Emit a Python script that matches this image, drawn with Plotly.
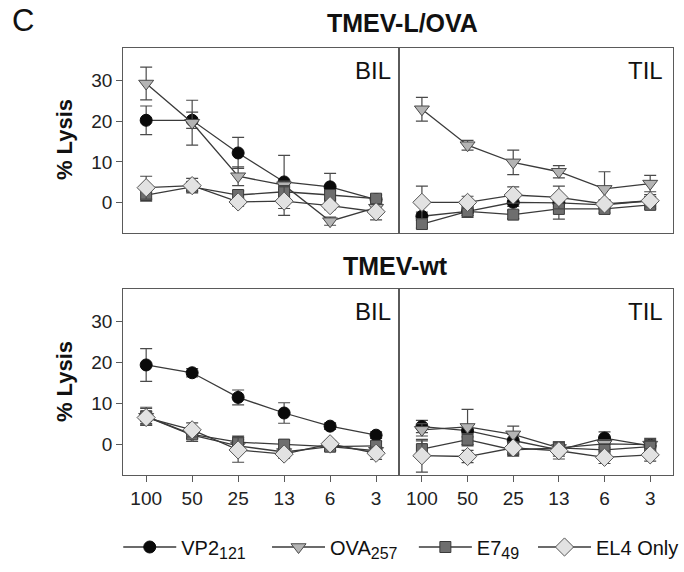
import plotly.graph_objects as go

# ---------------- data ----------------
categories = ["100", "50", "25", "13", "6", "3"]
y_ticks = [0, 10, 20, 30]
series_base = ["VP2", "OVA", "E7", "EL4 Only"]
series_sub = ["121", "257", "49", ""]
panel_titles = ["TMEV-L/OVA", "TMEV-wt"]
panel_labels = ["BIL", "TIL"]

# TMEV-L/OVA, BIL
ova_bil_vp2 = [20.2, 20.2, 12.2, 5.1, 3.9, 0.8]
ova_bil_vp2_err = [3.5, 2.0, 3.8, 6.5, 3.3, 1.0]
ova_bil_ova = [29.2, 19.6, 6.5, 4.3, -4.5, -1.2]
ova_bil_ova_err = [4.0, 5.5, 2.3, 1.0, 1.0, 1.5]
ova_bil_e7 = [1.9, 3.9, 1.9, 2.7, 1.9, 1.0]
ova_bil_e7_err = [1.5, 1.0, 1.0, 1.5, 1.0, 1.0]
ova_bil_el4 = [3.7, 4.2, 0.2, 0.4, -0.7, -2.2]
ova_bil_el4_err = [2.8, 1.8, 1.0, 3.5, 1.0, 2.0]

# TMEV-L/OVA, TIL
ova_til_vp2 = [-3.3, -2.1, 0.1, 0.0, -0.5, 0.5]
ova_til_vp2_err = [1.0, 1.0, 1.0, 1.0, 1.0, 1.0]
ova_til_ova = [22.9, 14.1, 9.9, 7.6, 3.4, 4.7]
ova_til_ova_err = [2.9, 1.2, 3.0, 1.5, 4.2, 2.0]
ova_til_e7 = [-5.2, -2.1, -2.9, -1.5, -1.5, -0.5]
ova_til_e7_err = [1.0, 1.5, 1.0, 2.5, 1.0, 1.0]
ova_til_el4 = [0.1, 0.1, 1.9, 1.3, -0.3, 0.5]
ova_til_el4_err = [4.0, 1.5, 2.0, 2.8, 1.0, 1.5]

# TMEV-wt, BIL
wt_bil_vp2 = [19.4, 17.5, 11.5, 7.7, 4.5, 2.3]
wt_bil_vp2_err = [4.0, 1.0, 1.8, 2.5, 0.8, 0.8]
wt_bil_ova = [6.8, 2.3, -0.3, -1.8, -0.5, -1.5]
wt_bil_ova_err = [2.0, 1.5, 1.5, 1.0, 1.0, 1.0]
wt_bil_e7 = [6.9, 2.5, 0.6, 0.0, -0.5, -0.3]
wt_bil_e7_err = [2.2, 1.0, 1.5, 1.0, 1.0, 1.0]
wt_bil_el4 = [6.6, 3.6, -1.3, -2.3, 0.2, -2.1]
wt_bil_el4_err = [1.5, 1.7, 3.0, 1.0, 0.8, 1.5]

# TMEV-wt, TIL
wt_til_vp2 = [4.4, 3.4, 1.0, -1.3, 1.6, -0.3]
wt_til_vp2_err = [1.5, 1.5, 1.5, 1.5, 1.5, 1.5]
wt_til_ova = [3.6, 4.3, 2.5, -0.8, 0.2, 0.0]
wt_til_ova_err = [1.5, 4.3, 2.0, 1.5, 1.0, 1.5]
wt_til_e7 = [-1.1, 1.2, -1.3, -0.8, -1.3, -0.5]
wt_til_e7_err = [2.0, 1.5, 1.5, 1.5, 1.5, 1.5]
wt_til_el4 = [-2.7, -2.9, -0.8, -1.5, -3.1, -2.5]
wt_til_el4_err = [4.0, 1.5, 1.5, 2.0, 1.5, 1.5]

panels = [
    ("x", "y", [ova_bil_vp2, ova_bil_ova, ova_bil_e7, ova_bil_el4],
     [ova_bil_vp2_err, ova_bil_ova_err, ova_bil_e7_err, ova_bil_el4_err]),
    ("x2", "y2", [ova_til_vp2, ova_til_ova, ova_til_e7, ova_til_el4],
     [ova_til_vp2_err, ova_til_ova_err, ova_til_e7_err, ova_til_el4_err]),
    ("x3", "y3", [wt_bil_vp2, wt_bil_ova, wt_bil_e7, wt_bil_el4],
     [wt_bil_vp2_err, wt_bil_ova_err, wt_bil_e7_err, wt_bil_el4_err]),
    ("x4", "y4", [wt_til_vp2, wt_til_ova, wt_til_e7, wt_til_el4],
     [wt_til_vp2_err, wt_til_ova_err, wt_til_e7_err, wt_til_el4_err]),
]

# ---------------- styles ----------------
FONT = "Arial, Liberation Sans, sans-serif"
LINE_COL = "#3a3a3a"
AX_COL = "#5a5a5a"
styles = [
    dict(symbol="circle", size=12, color="#0a0a0a", lcol="#0a0a0a"),
    dict(symbol="triangle-down", size=13, color="#b4b4b4", lcol="#4a4a4a"),
    dict(symbol="square", size=11, color="#6e6e6e", lcol="#3a3a3a"),
    dict(symbol="diamond", size=14, color="#e2e2e2", lcol="#555555"),
]
legend_ids = ["legend", "legend2", "legend3", "legend4"]
legend_box_px = [120, 271, 420, 541]


def legend_name(i):
    if series_sub[i]:
        return (series_base[i] + "<sub><span style='font-size:16px'>"
                + series_sub[i] + "</span></sub>")
    return series_base[i]


fig = go.Figure()
for pi, (xa, ya, vals, errs) in enumerate(panels):
    for si in range(4):
        st = styles[si]
        fig.add_trace(go.Scatter(
            x=categories, y=vals[si], xaxis=xa, yaxis=ya,
            mode="lines+markers",
            name=legend_name(si), legendgroup=str(si), showlegend=(pi == 0),
            legend=legend_ids[si],
            line=dict(color=LINE_COL, width=1.3),
            marker=dict(symbol=st["symbol"], size=st["size"], color=st["color"],
                        line=dict(color=st["lcol"], width=1)),
            error_y=dict(type="data", array=errs[si], visible=True,
                         color="#4a4a4a", thickness=1.2, width=6),
        ))

W, H = 684, 572
def fx(px):
    return px / W
def fy(py):
    return 1 - py / H

x_bil = [fx(125), fx(405)]
x_til = [fx(405), fx(683)]
y_top = [fy(233), fy(48)]
y_bot = [fy(475), fy(289)]
YR = [-7.4, 37.9]
XR = [-0.5, 5.5]

axcommon = dict(showline=True, linecolor=AX_COL, linewidth=1.2, mirror=True,
                showgrid=False, zeroline=False,
                tickfont=dict(family=FONT, size=19, color="#222"))

layout = dict(
    width=W, height=H, paper_bgcolor="white", plot_bgcolor="white",
    margin=dict(l=0, r=0, t=0, b=0),
    font=dict(family=FONT, color="#111"),
    xaxis=dict(domain=x_bil, anchor="y", type="category", range=XR,
               showticklabels=False, ticks="", **axcommon),
    xaxis2=dict(domain=x_til, anchor="y2", type="category", range=XR,
                showticklabels=False, ticks="", **axcommon),
    xaxis3=dict(domain=x_bil, anchor="y3", type="category", range=XR,
                ticks="outside", ticklen=6, tickcolor=AX_COL, **axcommon),
    xaxis4=dict(domain=x_til, anchor="y4", type="category", range=XR,
                ticks="outside", ticklen=6, tickcolor=AX_COL, **axcommon),
    yaxis=dict(domain=y_top, anchor="x", range=YR, tickvals=y_ticks,
               ticks="outside", ticklen=6, tickcolor=AX_COL, **axcommon),
    yaxis2=dict(domain=y_top, anchor="x2", range=YR, tickvals=y_ticks,
                showticklabels=False, ticks="", **axcommon),
    yaxis3=dict(domain=y_bot, anchor="x3", range=YR, tickvals=y_ticks,
                ticks="outside", ticklen=6, tickcolor=AX_COL, **axcommon),
    yaxis4=dict(domain=y_bot, anchor="x4", range=YR, tickvals=y_ticks,
                showticklabels=False, ticks="", **axcommon),
    showlegend=True,
)
for lid, bx in zip(legend_ids, legend_box_px):
    layout[lid] = dict(orientation="h", x=fx(bx), xanchor="left",
                       y=fy(547), yanchor="middle",
                       font=dict(family=FONT, size=20, color="#111"),
                       itemwidth=53, bgcolor="rgba(0,0,0,0)")
fig.update_layout(**layout)

ann = []
ann.append(dict(text="C", x=fx(10), y=fy(21), xref="paper", yref="paper",
                xanchor="left", yanchor="middle", showarrow=False,
                font=dict(family=FONT, size=31, color="#111")))
for t, yc, xc in zip(panel_titles, [23, 266], [408, 401]):
    ann.append(dict(text="<b>" + t + "</b>", x=fx(xc), y=fy(yc), xref="paper", yref="paper",
                    xanchor="center", yanchor="middle", showarrow=False,
                    font=dict(family=FONT, size=25, color="#111")))
for yc in [70, 311]:
    ann.append(dict(text=panel_labels[0], x=fx(399), y=fy(yc), xref="paper", yref="paper",
                    xanchor="right", yanchor="middle", showarrow=False,
                    font=dict(family=FONT, size=24, color="#111")))
    ann.append(dict(text=panel_labels[1], x=fx(675), y=fy(yc), xref="paper", yref="paper",
                    xanchor="right", yanchor="middle", showarrow=False,
                    font=dict(family=FONT, size=24, color="#111")))
for yc in [140, 382]:
    ann.append(dict(text="<b>% Lysis</b>", x=fx(65), y=fy(yc), xref="paper", yref="paper",
                    xanchor="center", yanchor="middle", showarrow=False, textangle=-90,
                    font=dict(family=FONT, size=22, color="#111")))
fig.update_layout(annotations=ann)

fig.write_html("out.html", config={"displayModeBar": False},
               post_script="document.body.style.margin='0';document.body.style.overflow='hidden';")
